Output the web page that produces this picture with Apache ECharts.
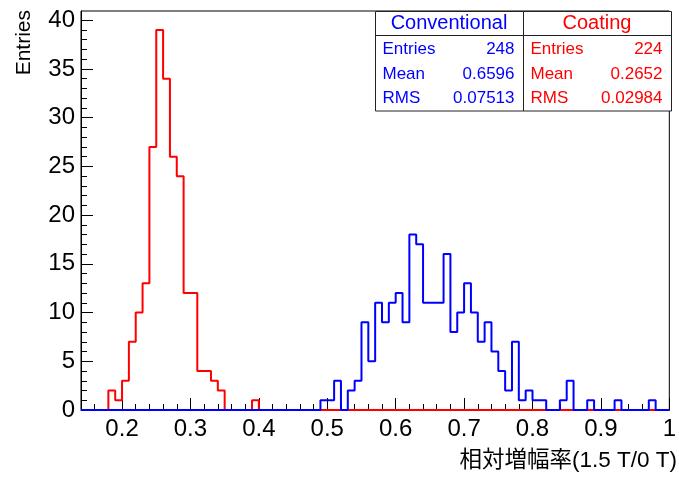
<!DOCTYPE html>
<html>
<head>
<meta charset="utf-8">
<script src="https://cdn.jsdelivr.net/npm/echarts@6/dist/echarts.min.js"></script>
<style>
html,body{margin:0;padding:0;background:#fff;}
#chart{width:679px;height:477px;}
</style>
</head>
<body>
<div id="chart"></div>
<script>
// ---- data ----
const xMin = 0.14, xMax = 1.0, binWidth = 0.01;
const xTickLabels = [0.2, 0.3, 0.4, 0.5, 0.6, 0.7, 0.8, 0.9, 1.0];
const yTickLabels = [0, 5, 10, 15, 20, 25, 30, 35, 40];
const yMax = 40.95;
const coatingStart = 0.18;
const coatingCounts = [2,1,3,7,10,13,27,39,34,26,24,12,12,4,4,3,2,0,0,0,0,1];
const conventionalStart = 0.49;
const conventionalCounts = [1,1,3,0,2,3,9,5,11,9,11,12,9,18,17,11,11,11,16,8,10,13,10,7,9,6,4,2,7,1,2,1,1,0,0,1,3,0,0,1,0,0,0,1,0,0,0,0,1];
const statsConventional = {title:'Conventional', entries:'248', mean:'0.6596', rms:'0.07513'};
const statsCoating = {title:'Coating', entries:'224', mean:'0.2652', rms:'0.02984'};
const xTitle = '相対増幅率(1.5 T/0 T)';
const yTitle = 'Entries';

// ---- build step outlines from bins ----
function r(v){ return Math.round(v*10000)/10000; }
function stepPath(start, counts){
  const pts = [[xMin,0],[start,0]];
  counts.forEach((c,i)=>{
    const a = r(start + i*binWidth), b = r(start + (i+1)*binWidth);
    pts.push([a,c]); pts.push([b,c]);
  });
  pts.push([r(start + counts.length*binWidth),0]);
  pts.push([xMax,0]);
  return pts;
}
const minorX = []; for(let i=0;i<=43;i++) minorX.push(r(xMin + i*0.02));
const minorY = []; for(let i=0;i<=40;i++) minorY.push(i);

const chart = echarts.init(document.getElementById('chart'), null, {renderer:'canvas'});
const FONT = '"Liberation Sans", Arial, Helvetica, sans-serif';
const gridL=81, gridR=671, gridT=11, gridB=410;

function statsBox(x0, x1, s, color){
  const cx=(x0+x1)/2;
  const els = [
    {type:'rect', shape:{x:x0+0.5,y:gridT+0.5,width:x1-x0,height:99.5}, style:{fill:'#fff',stroke:'#222',lineWidth:1}, z:100},
    {type:'line', shape:{x1:x0+0.5,y1:35.5,x2:x1+0.5,y2:35.5}, style:{stroke:'#222',lineWidth:1}, z:101},
    {type:'text', x:cx, y:23, style:{text:s.title, fill:color, font:'20px '+FONT, align:'center', verticalAlign:'middle'}, z:102}
  ];
  const rows=[['Entries',s.entries,49.5],['Mean',s.mean,74],['RMS',s.rms,98]];
  rows.forEach(rw=>{
    els.push({type:'text', x:x0+7.5, y:rw[2], style:{text:rw[0], fill:color, font:'17px '+FONT, align:'left', verticalAlign:'middle'}, z:102});
    els.push({type:'text', x:x1-8.5, y:rw[2], style:{text:rw[1], fill:color, font:'17px '+FONT, align:'right', verticalAlign:'middle'}, z:102});
  });
  return els;
}

const option = {
  animation:false,
  backgroundColor:'#fff',
  grid:{left:gridL, right:679-gridR, top:gridT, bottom:477-gridB, show:true, borderColor:'#000', borderWidth:1, backgroundColor:'transparent', containLabel:false},
  xAxis:[
    {type:'value', min:xMin, max:xMax, position:'bottom',
     axisLine:{show:true, onZero:false, lineStyle:{color:'#000', width:1}},
     axisTick:{show:true, inside:true, length:12, customValues:xTickLabels, lineStyle:{color:'#000', width:1}},
     axisLabel:{show:true, customValues:xTickLabels, margin:7, fontSize:24, color:'#000', fontFamily:FONT,
       formatter:v=> (Math.abs(v-1)<1e-9 ? '1' : v.toFixed(1))},
     splitLine:{show:false}},
    {type:'value', min:xMin, max:xMax, position:'bottom',
     axisLine:{show:false},
     axisTick:{show:true, inside:true, length:6, customValues:minorX, lineStyle:{color:'#000', width:1}},
     axisLabel:{show:false}, splitLine:{show:false}}
  ],
  yAxis:[
    {type:'value', min:0, max:yMax, position:'left',
     axisLine:{show:true, onZero:false, lineStyle:{color:'#000', width:1}},
     axisTick:{show:true, inside:true, length:12, customValues:yTickLabels, lineStyle:{color:'#000', width:1}},
     axisLabel:{show:true, customValues:yTickLabels, margin:6, fontSize:24, color:'#000', fontFamily:FONT},
     splitLine:{show:false}},
    {type:'value', min:0, max:yMax, position:'left',
     axisLine:{show:false},
     axisTick:{show:true, inside:true, length:6, customValues:minorY, lineStyle:{color:'#000', width:1}},
     axisLabel:{show:false}, splitLine:{show:false}}
  ],
  series:[
    {name:'Coating', type:'line', xAxisIndex:0, yAxisIndex:0, data:stepPath(coatingStart, coatingCounts),
     showSymbol:false, symbol:'none', lineStyle:{color:'#ff0000', width:2}, z:3, silent:true},
    {name:'Conventional', type:'line', xAxisIndex:0, yAxisIndex:0, data:stepPath(conventionalStart, conventionalCounts),
     showSymbol:false, symbol:'none', lineStyle:{color:'#0000ff', width:2}, z:4, silent:true}
  ],
  graphic:[
    {type:'text', x:677, y:461, style:{text:xTitle, fill:'#000', font:'22.5px "Liberation Sans", "Noto Sans CJK JP", sans-serif', align:'right', verticalAlign:'middle'}},
    {type:'text', x:24, y:10, rotation:Math.PI/2, style:{text:yTitle, fill:'#000', font:'21px '+FONT, align:'right', verticalAlign:'middle'}}
  ].concat(statsBox(375, 523, statsConventional, '#0000ff'), statsBox(523, 671, statsCoating, '#ff0000'))
};
chart.setOption(option);
</script>
</body>
</html>
